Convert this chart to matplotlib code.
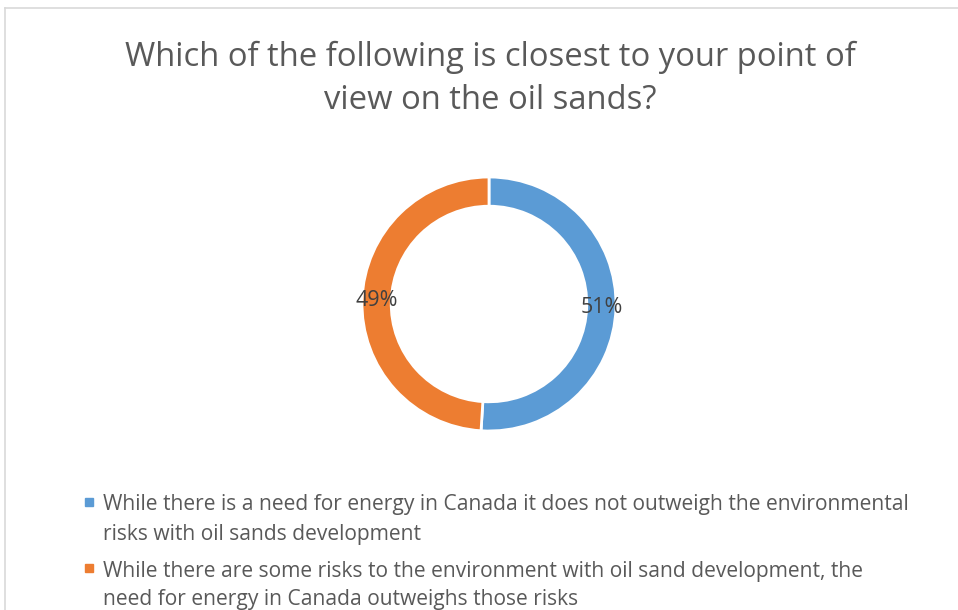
import matplotlib
matplotlib.use('Agg')
import matplotlib.pyplot as plt
from matplotlib.lines import Line2D
from matplotlib.patches import Rectangle

# chart data
title_lines = ["Which of the following is closest to your point of",
               "view on the oil sands?"]
shares = [51, 49]
colors = ["#5B9BD5", "#ED7D31"]
legend_lines = [
    ["While there is a need for energy in Canada it does not outweigh the environmental",
     "risks with oil sands development"],
    ["While there are some risks to the environment with oil sand development, the",
     "need for energy in Canada outweighs those risks"],
]

W, H = 958, 610
plt.rcParams['font.family'] = ['Open Sans', 'DejaVu Sans']

fig = plt.figure(figsize=(W / 100, H / 100), dpi=100)
fig.patch.set_facecolor('white')

# chart area border (only top and left visible)
fig.add_artist(Line2D([5 / W, 1], [1 - 8 / H, 1 - 8 / H], transform=fig.transFigure,
                      color='#D9D9D9', lw=1.2))
fig.add_artist(Line2D([5 / W, 5 / W], [0, 1 - 8 / H], transform=fig.transFigure,
                      color='#D9D9D9', lw=1.2))

# title
fig.text(490 / W, 1 - 66 / H, title_lines[0], ha='center', va='baseline',
         fontsize=23.6, color='#595959')
fig.text(490 / W, 1 - 109 / H, title_lines[1], ha='center', va='baseline',
         fontsize=23.6, color='#595959')

# donut
cx, cy, r = 489, 306, 127
ax = fig.add_axes([(cx - r) / W, (cy - r) / H, 2 * r / W, 2 * r / H])
wedges, texts, autotexts = ax.pie(
    shares, colors=colors, startangle=90, counterclock=False, radius=1,
    autopct='%1.0f%%', pctdistance=0.885,
    wedgeprops=dict(width=0.23, edgecolor='white', linewidth=2),
    textprops=dict(fontsize=15.5, color='#404040'))
ax.set_xlim(-1, 1)
ax.set_ylim(-1, 1)
ax.set_aspect('equal')
ax.axis('off')

# legend drawn by hand so the marker sits on the first line
baselines = [[510, 540], [577, 605]]
square_centres = [502, 568]
for lines, ys, sq, c in zip(legend_lines, baselines, square_centres, colors):
    fig.add_artist(Rectangle(((89 - 4) / W, 1 - (sq + 4) / H), 8 / W, 8 / H,
                             transform=fig.transFigure, color=c))
    for txt, y in zip(lines, ys):
        fig.text(103 / W, 1 - y / H, txt, ha='left', va='baseline',
                 fontsize=15.1, color='#595959')

fig.savefig('out.png', dpi=100)
